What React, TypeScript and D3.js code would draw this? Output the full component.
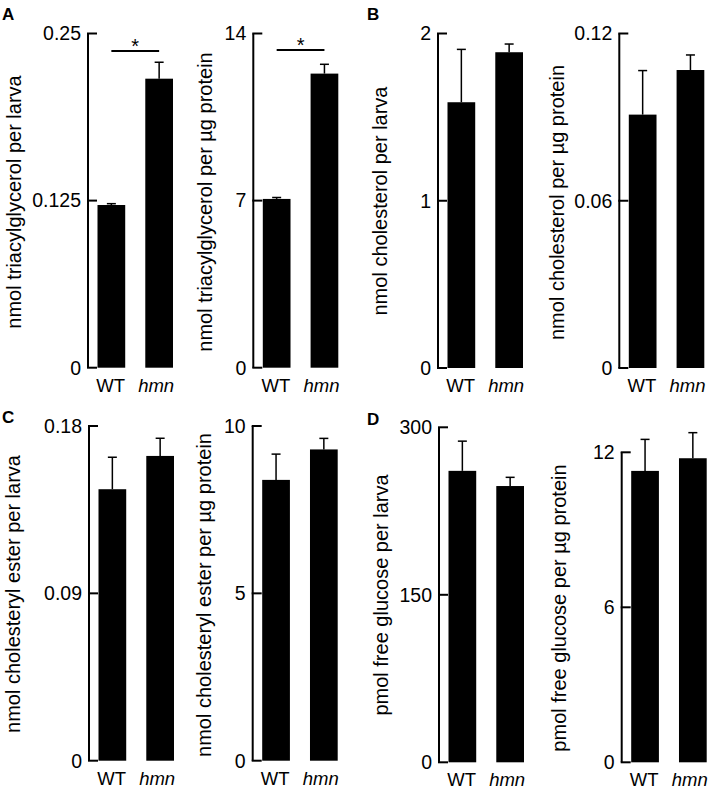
import React from "react";
import * as d3 from "d3";

const categories = ["WT", "hmn"];

const tagLarva = [0.1217, 0.2162];
const tagLarvaErr = [0.001, 0.0123];
const tagLarvaTicks = [0, 0.125, 0.25];

const tagProtein = [7.07, 12.32];
const tagProteinErr = [0.06, 0.39];
const tagProteinTicks = [0, 7, 14];

const cholLarva = [1.589, 1.888];
const cholLarvaErr = [0.316, 0.049];
const cholLarvaTicks = [0, 1, 2];

const cholProtein = [0.0909, 0.1069];
const cholProteinErr = [0.0158, 0.0054];
const cholProteinTicks = [0, 0.06, 0.12];

const ceLarva = [0.146, 0.1639];
const ceLarvaErr = [0.0172, 0.0095];
const ceLarvaTicks = [0, 0.09, 0.18];

const ceProtein = [8.39, 9.3];
const ceProteinErr = [0.77, 0.33];
const ceProteinTicks = [0, 5, 10];

const glucLarva = [261, 247.4];
const glucLarvaErr = [26.6, 7.8];
const glucLarvaTicks = [0, 150, 300];

const glucProtein = [11.28, 11.77];
const glucProteinErr = [1.22, 0.99];
const glucProteinTicks = [0, 6, 12];

const panelLetters = [
  { t: "A", x: 2, y: 20 },
  { t: "B", x: 367, y: 20 },
  { t: "C", x: 2, y: 423 },
  { t: "D", x: 367, y: 425 },
];

type Cfg = {
  values: number[];
  errors: number[];
  ticks: number[];
  label: string;
  axisX: number;
  yTop: number;
  yZero: number;
  labelX: number;
  labelY: number;
  sig?: number;
};

const charts: Cfg[] = [
  { values: tagLarva, errors: tagLarvaErr, ticks: tagLarvaTicks, label: "nmol triacylglycerol per larva", axisX: 88, yTop: 33.5, yZero: 367.7, labelX: 16, labelY: 202, sig: 0.237 },
  { values: tagProtein, errors: tagProteinErr, ticks: tagProteinTicks, label: "nmol triacylglycerol per µg protein", axisX: 253.3, yTop: 33.5, yZero: 367.7, labelX: 207, labelY: 202, sig: 13.31 },
  { values: cholLarva, errors: cholLarvaErr, ticks: cholLarvaTicks, label: "nmol cholesterol per larva", axisX: 438, yTop: 33.5, yZero: 368, labelX: 381.7, labelY: 201 },
  { values: cholProtein, errors: cholProteinErr, ticks: cholProteinTicks, label: "nmol cholesterol per µg protein", axisX: 619.3, yTop: 33.5, yZero: 368, labelX: 559, labelY: 202.5 },
  { values: ceLarva, errors: ceLarvaErr, ticks: ceLarvaTicks, label: "nmol cholesteryl ester per larva", axisX: 89, yTop: 426, yZero: 760.7, labelX: 15, labelY: 594 },
  { values: ceProtein, errors: ceProteinErr, ticks: ceProteinTicks, label: "nmol cholesteryl ester per µg protein", axisX: 252.7, yTop: 426, yZero: 760.7, labelX: 205.7, labelY: 595 },
  { values: glucLarva, errors: glucLarvaErr, ticks: glucLarvaTicks, label: "pmol free glucose per larva", axisX: 439, yTop: 427.3, yZero: 762.3, labelX: 382.3, labelY: 595 },
  { values: glucProtein, errors: glucProteinErr, ticks: glucProteinTicks, label: "pmol free glucose per µg protein", axisX: 621.7, yTop: 452.3, yZero: 762.3, labelX: 560.7, labelY: 608 },
];

const FONT = "'Liberation Sans', Arial, Helvetica, sans-serif";

function Chart({ c }: { c: Cfg }) {
  const max = c.ticks[c.ticks.length - 1];
  const y = d3.scaleLinear().domain([0, max]).range([c.yZero, c.yTop]);
  const x = d3
    .scaleBand<string>()
    .domain(categories)
    .range([c.axisX + 9.5, c.axisX + 85])
    .paddingInner(0.42)
    .paddingOuter(0);
  const bw = x.bandwidth();
  const capHalf = 4.5;
  return (
    <g>
      <line x1={c.axisX} x2={c.axisX} y1={y(max)} y2={y(0)} stroke="#000" strokeWidth={2} />
      {c.ticks.map((t) => (
        <g key={t}>
          <line x1={c.axisX - 1} x2={c.axisX + 9} y1={y(t)} y2={y(t)} stroke="#000" strokeWidth={2} />
          <text x={c.axisX - 7} y={y(t)} dy="0.35em" textAnchor="end" fontSize={19.5} fontFamily={FONT} fill="#000">
            {String(t)}
          </text>
        </g>
      ))}
      {categories.map((cat, i) => {
        const v = c.values[i];
        const e = c.errors[i];
        const cx = (x(cat) as number) + bw / 2;
        return (
          <g key={cat}>
            <line x1={cx} x2={cx} y1={y(v)} y2={y(v + e)} stroke="#000" strokeWidth={1.5} />
            <line x1={cx - capHalf} x2={cx + capHalf} y1={y(v + e)} y2={y(v + e)} stroke="#000" strokeWidth={1.5} />
            <rect x={x(cat)} y={y(v)} width={bw} height={y(0) - y(v)} fill="#000" />
            <text
              x={i === 1 ? cx - 3 : cx - 0.8}
              y={c.yZero + 24}
              textAnchor="middle"
              fontSize={18.5}
              fontFamily={FONT}
              fontStyle={i === 1 ? "italic" : "normal"}
              fill="#000"
            >
              {cat}
            </text>
          </g>
        );
      })}
      {c.sig !== undefined && (
        <g>
          <line
            x1={(x(categories[0]) as number) + bw / 2}
            x2={(x(categories[1]) as number) + bw / 2}
            y1={y(c.sig)}
            y2={y(c.sig)}
            stroke="#000"
            strokeWidth={2}
          />
          <text
            x={((x(categories[0]) as number) + (x(categories[1]) as number) + bw) / 2}
            y={y(c.sig) + 2}
            textAnchor="middle"
            fontSize={20}
            fontFamily={FONT}
            fill="#000"
          >
            *
          </text>
        </g>
      )}
      <text
        transform={`translate(${c.labelX},${c.labelY}) rotate(-90)`}
        textAnchor="middle"
        dy="0.26em"
        fontSize={20}
        fontFamily={FONT}
        fill="#000"
      >
        {c.label}
      </text>
    </g>
  );
}

export default function App() {
  return (
    <svg
      width={709}
      height={792}
      viewBox="0 0 709 792"
      style={{ position: "absolute", left: 0, top: 0, background: "#fff" }}
    >
      <rect x={0} y={0} width={709} height={792} fill="#fff" />
      {charts.map((c, i) => (
        <Chart key={i} c={c} />
      ))}
      {panelLetters.map((p) => (
        <text key={p.t} x={p.x} y={p.y} fontSize={17} fontWeight="bold" fontFamily={FONT} fill="#000">
          {p.t}
        </text>
      ))}
    </svg>
  );
}
